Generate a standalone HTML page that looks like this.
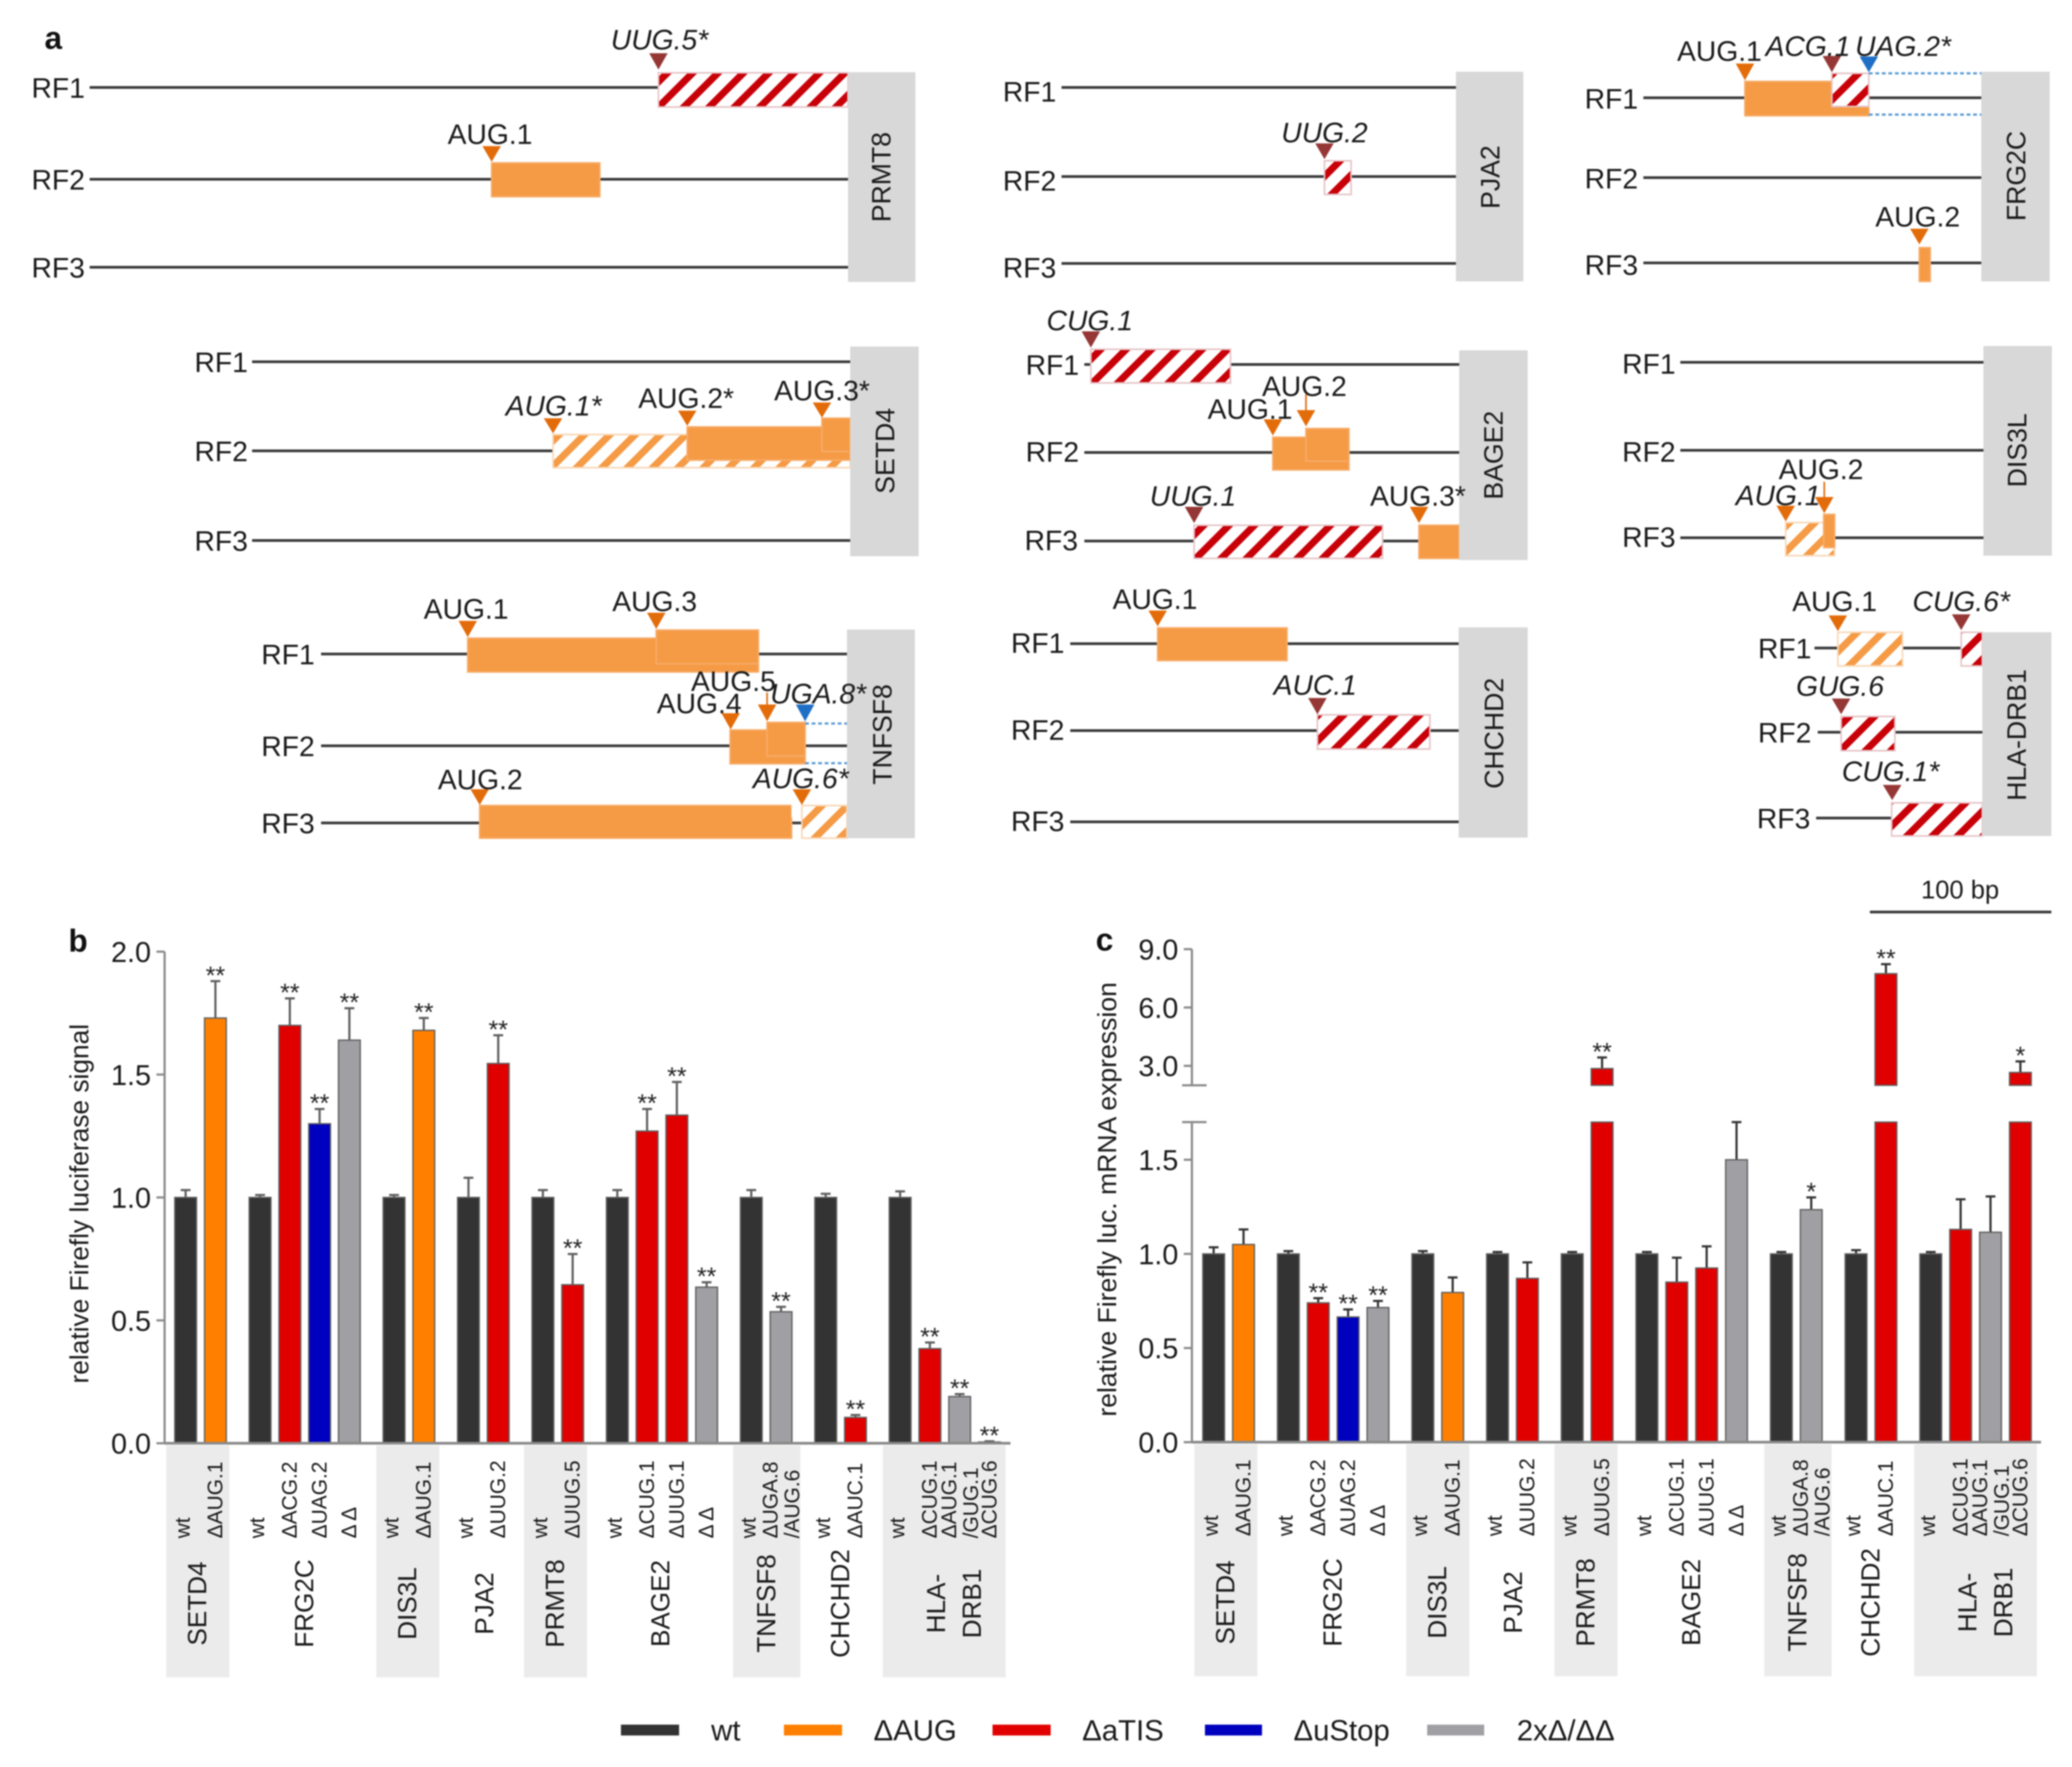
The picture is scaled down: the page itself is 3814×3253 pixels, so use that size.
<!DOCTYPE html>
<html>
<head>
<meta charset="utf-8">
<title>Upstream translation initiation sites and reporter assays</title>
<style>
html,body{margin:0;padding:0;background:#fff;}
svg{display:block;filter:blur(1.4px);font-family:"Liberation Sans",sans-serif;}
.lab{font-size:52px;fill:#1a1a1a;text-anchor:middle;}
.it{font-style:italic;}
.rf{font-size:52px;fill:#1a1a1a;transform:translateY(2px);}
.gene{font-size:49px;fill:#1a1a1a;text-anchor:middle;dominant-baseline:central;}
.track{stroke:#3a3a3a;stroke-width:5;}
.genebox{fill:#d8d8d8;}
.solid{fill:#f59a45;stroke:#f7ab66;stroke-width:3;}
.hr{fill:url(#hatch-red);stroke:#e6c4c7;stroke-width:3;}
.ho{fill:url(#hatch-orange);stroke:#f9d8b6;stroke-width:3;}
.to{fill:#e36c0a;}
.tr{fill:#953735;}
.tb{fill:#1f6fc6;}
.dot{stroke:#5b9bd5;stroke-width:4;stroke-dasharray:7 5;}
.thin{stroke:#e36c0a;stroke-width:3;}
.panel{font-size:58px;font-weight:bold;fill:#111;}
.leg{font-size:54px;fill:#1a1a1a;}
</style>
</head>
<body>
<svg id="figure" xmlns="http://www.w3.org/2000/svg" width="3814" height="3253" viewBox="0 0 3814 3253">
<defs>
<pattern id="hatch-red" width="33" height="33" patternUnits="userSpaceOnUse" patternTransform="rotate(45)"><rect width="33" height="33" fill="#fff"/><rect width="13" height="33" fill="#c80008"/></pattern>
<pattern id="hatch-orange" width="33" height="33" patternUnits="userSpaceOnUse" patternTransform="rotate(45)"><rect width="33" height="33" fill="#fff"/><rect width="13" height="33" fill="#f59a45"/></pattern>
</defs>
<rect width="3814" height="3253" fill="#fff"/>

<g>
<text class="panel" x="82" y="90">a</text>

<g>
<line class="track" x1="165" y1="161" x2="1561" y2="161"/>
<line class="track" x1="165" y1="330" x2="1561" y2="330"/>
<line class="track" x1="165" y1="492" x2="1561" y2="492"/>
<text class="rf" x="58" y="178">RF1</text>
<text class="rf" x="58" y="347">RF2</text>
<text class="rf" x="58" y="509">RF3</text>
<rect class="hr" x="1212" y="134" width="349" height="63"/>
<rect class="solid" x="905" y="300" width="199" height="62"/>
<rect class="genebox" x="1561" y="133" width="124" height="386"/>
<text class="gene" transform="rotate(-90 1623 326)" x="1623" y="326">PRMT8</text>
<text class="lab it" x="1214" y="91">UUG.5*</text>
<polygon class="tr" points="1195,98 1229,98 1212,128"/>
<text class="lab" x="902" y="265">AUG.1</text>
<polygon class="to" points="888,269 922,269 905,298"/>
</g>

<g>
<line class="track" x1="464" y1="666" x2="1565" y2="666"/>
<line class="track" x1="464" y1="830" x2="1018" y2="830"/>
<line class="track" x1="464" y1="995" x2="1565" y2="995"/>
<text class="rf" x="358" y="683">RF1</text>
<text class="rf" x="358" y="847">RF2</text>
<text class="rf" x="358" y="1012">RF3</text>
<rect class="ho" x="1018" y="800" width="547" height="61"/>
<rect class="solid" x="1265" y="786" width="300" height="61"/>
<rect class="solid" x="1513" y="770" width="52" height="61"/>
<rect class="genebox" x="1565" y="638" width="126" height="386"/>
<text class="gene" transform="rotate(-90 1630 830)" x="1630" y="830">SETD4</text>
<text class="lab it" x="1019" y="765">AUG.1*</text>
<polygon class="to" points="1001,770 1035,770 1018,798"/>
<text class="lab" x="1263" y="751">AUG.2*</text>
<polygon class="to" points="1248,756 1282,756 1265,784"/>
<text class="lab" x="1513" y="737">AUG.3*</text>
<polygon class="to" points="1496,741 1530,741 1513,769"/>
</g>

<g>
<line class="track" x1="591" y1="1204" x2="1559" y2="1204"/>
<line class="track" x1="591" y1="1373" x2="1559" y2="1373"/>
<line class="track" x1="591" y1="1515" x2="1559" y2="1515"/>
<text class="rf" x="481" y="1221">RF1</text>
<text class="rf" x="481" y="1390">RF2</text>
<text class="rf" x="481" y="1532">RF3</text>
<rect class="solid" x="861" y="1175" width="535" height="62"/>
<rect class="solid" x="1208" y="1160" width="188" height="62"/>
<rect class="solid" x="1344" y="1344" width="138" height="62"/>
<rect class="solid" x="1412" y="1330" width="70" height="62"/>
<line class="dot" x1="1482" y1="1332" x2="1559" y2="1332"/>
<line class="dot" x1="1482" y1="1405" x2="1559" y2="1405"/>
<rect class="solid" x="883" y="1483" width="574" height="60"/>
<rect x="1457" y="1480" width="19" height="25" fill="#fff"/>
<rect class="ho" x="1476" y="1483" width="83" height="60"/>
<rect class="genebox" x="1559" y="1159" width="125" height="384"/>
<text class="gene" transform="rotate(-90 1625 1352)" x="1625" y="1352">TNFSF8</text>
<text class="lab" x="858" y="1139">AUG.1</text>
<polygon class="to" points="844,1143 878,1143 861,1173"/>
<text class="lab" x="1205" y="1125">AUG.3</text>
<polygon class="to" points="1191,1128 1225,1128 1208,1158"/>
<text class="lab" x="1350" y="1272">AUG.5</text>
<text class="lab" x="1287" y="1313">AUG.4</text>
<polygon class="to" points="1328,1313 1362,1313 1345,1343"/>
<line class="thin" x1="1412" y1="1275" x2="1412" y2="1300"/>
<polygon class="to" points="1395,1297 1429,1297 1412,1328"/>
<text class="lab it" x="1506" y="1295">UGA.8*</text>
<polygon class="tb" points="1465,1297 1499,1297 1482,1328"/>
<text class="lab" x="884" y="1453">AUG.2</text>
<polygon class="to" points="866,1453 900,1453 883,1482"/>
<text class="lab it" x="1474" y="1451">AUG.6*</text>
<polygon class="to" points="1459,1453 1493,1453 1476,1482"/>
</g>

<g>
<line class="track" x1="1954" y1="161" x2="2680" y2="161"/>
<line class="track" x1="1954" y1="325" x2="2680" y2="325"/>
<line class="track" x1="1954" y1="485" x2="2680" y2="485"/>
<text class="rf" x="1846" y="185">RF1</text>
<text class="rf" x="1846" y="349">RF2</text>
<text class="rf" x="1846" y="509">RF3</text>
<rect class="hr" x="2438" y="296" width="49" height="62"/>
<rect class="genebox" x="2680" y="132" width="124" height="386"/>
<text class="gene" transform="rotate(-90 2744 326)" x="2744" y="326">PJA2</text>
<text class="lab it" x="2438" y="262">UUG.2</text>
<polygon class="tr" points="2421,264 2455,264 2438,293"/>
</g>

<g>
<line class="track" x1="3025" y1="180" x2="3647" y2="180"/>
<line class="track" x1="3025" y1="327" x2="3647" y2="327"/>
<line class="track" x1="3025" y1="484" x2="3647" y2="484"/>
<text class="rf" x="2917" y="198">RF1</text>
<text class="rf" x="2917" y="345">RF2</text>
<text class="rf" x="2917" y="504">RF3</text>
<rect class="solid" x="3212" y="150" width="228" height="63"/>
<rect class="hr" x="3372" y="135" width="68" height="61"/>
<line class="dot" x1="3440" y1="135" x2="3647" y2="135"/>
<line class="dot" x1="3440" y1="211" x2="3647" y2="211"/>
<rect class="solid" x="3533" y="456" width="20" height="62"/>
<rect class="genebox" x="3647" y="132" width="126" height="386"/>
<text class="gene" transform="rotate(-90 3712 324)" x="3712" y="324">FRG2C</text>
<text class="lab" x="3165" y="112">AUG.1</text>
<polygon class="to" points="3195,117 3229,117 3212,148"/>
<text class="lab it" x="3328" y="103">ACG.1</text>
<polygon class="tr" points="3355,103 3389,103 3372,133"/>
<text class="lab it" x="3503" y="103">UAG.2*</text>
<polygon class="tb" points="3423,104 3457,104 3440,133"/>
<text class="lab" x="3530" y="417">AUG.2</text>
<polygon class="to" points="3516,421 3550,421 3533,450"/>
</g>

<g>
<line class="track" x1="1996" y1="671" x2="2686" y2="671"/>
<line class="track" x1="1996" y1="833" x2="2686" y2="833"/>
<line class="track" x1="1996" y1="996" x2="2686" y2="996"/>
<text class="rf" x="1888" y="688">RF1</text>
<text class="rf" x="1888" y="848">RF2</text>
<text class="rf" x="1886" y="1011">RF3</text>
<rect class="hr" x="2008" y="643" width="257" height="62"/>
<rect class="solid" x="2343" y="805" width="140" height="60"/>
<rect class="solid" x="2404" y="789" width="79" height="60"/>
<rect class="hr" x="2198" y="967" width="347" height="61"/>
<rect class="solid" x="2612" y="967" width="74" height="61"/>
<rect class="genebox" x="2686" y="645" width="126" height="386"/>
<text class="gene" transform="rotate(-90 2750 838)" x="2750" y="838">BAGE2</text>
<text class="lab it" x="2006" y="608">CUG.1</text>
<polygon class="tr" points="1991,610 2025,610 2008,640"/>
<text class="lab" x="2401" y="729">AUG.2</text>
<text class="lab" x="2301" y="771">AUG.1</text>
<polygon class="to" points="2326,772 2360,772 2343,802"/>
<line class="thin" x1="2404" y1="726" x2="2404" y2="760"/>
<polygon class="to" points="2387,755 2421,755 2404,785"/>
<text class="lab it" x="2196" y="931">UUG.1</text>
<polygon class="tr" points="2181,933 2215,933 2198,963"/>
<text class="lab" x="2610" y="931">AUG.3*</text>
<polygon class="to" points="2595,933 2629,933 2612,963"/>
</g>

<g>
<line class="track" x1="3093" y1="667" x2="3651" y2="667"/>
<line class="track" x1="3093" y1="829" x2="3651" y2="829"/>
<line class="track" x1="3093" y1="990" x2="3651" y2="990"/>
<text class="rf" x="2986" y="686">RF1</text>
<text class="rf" x="2986" y="848">RF2</text>
<text class="rf" x="2986" y="1005">RF3</text>
<rect class="ho" x="3287" y="962" width="90" height="61"/>
<rect class="solid" x="3357" y="947" width="20" height="61"/>
<rect class="genebox" x="3651" y="637" width="126" height="386"/>
<text class="gene" transform="rotate(-90 3714 829)" x="3714" y="829">DIS3L</text>
<text class="lab" x="3352" y="882">AUG.2</text>
<text class="lab it" x="3273" y="930">AUG.1</text>
<polygon class="to" points="3270,931 3304,931 3287,960"/>
<line class="thin" x1="3358" y1="887" x2="3358" y2="920"/>
<polygon class="to" points="3341,915 3375,915 3358,945"/>
</g>

<g>
<line class="track" x1="1970" y1="1185" x2="2685" y2="1185"/>
<line class="track" x1="1970" y1="1345" x2="2685" y2="1345"/>
<line class="track" x1="1970" y1="1513" x2="2685" y2="1513"/>
<text class="rf" x="1861" y="1200">RF1</text>
<text class="rf" x="1861" y="1360">RF2</text>
<text class="rf" x="1861" y="1528">RF3</text>
<rect class="solid" x="2131" y="1156" width="238" height="60"/>
<rect class="hr" x="2425" y="1316" width="207" height="63"/>
<rect class="genebox" x="2685" y="1155" width="127" height="387"/>
<text class="gene" transform="rotate(-90 2751 1350)" x="2751" y="1350">CHCHD2</text>
<text class="lab" x="2126" y="1121">AUG.1</text>
<polygon class="to" points="2114,1124 2148,1124 2131,1153"/>
<text class="lab it" x="2421" y="1279">AUC.1</text>
<polygon class="tr" points="2408,1285 2442,1285 2425,1315"/>
</g>

<g>
<line class="track" x1="3340" y1="1193" x2="3649" y2="1193"/>
<line class="track" x1="3346" y1="1348" x2="3649" y2="1348"/>
<line class="track" x1="3343" y1="1506" x2="3482" y2="1506"/>
<text class="rf" x="3236" y="1210">RF1</text>
<text class="rf" x="3236" y="1365">RF2</text>
<text class="rf" x="3234" y="1523">RF3</text>
<rect class="ho" x="3383" y="1164" width="119" height="62"/>
<rect class="hr" x="3610" y="1164" width="39" height="62"/>
<rect class="hr" x="3389" y="1319" width="99" height="63"/>
<rect class="hr" x="3482" y="1478" width="167" height="61"/>
<rect class="genebox" x="3649" y="1164" width="127" height="375"/>
<text class="gene" transform="rotate(-90 3713 1353)" x="3713" y="1353">HLA-DRB1</text>
<text class="lab" x="3377" y="1125">AUG.1</text>
<polygon class="to" points="3366,1133 3400,1133 3383,1162"/>
<text class="lab it" x="3610" y="1125">CUG.6*</text>
<polygon class="tr" points="3593,1131 3627,1131 3610,1160"/>
<text class="lab it" x="3387" y="1281">GUG.6</text>
<polygon class="tr" points="3372,1286 3406,1286 3389,1315"/>
<text class="lab it" x="3480" y="1438">CUG.1*</text>
<polygon class="tr" points="3466,1445 3500,1445 3483,1473"/>
</g>

<text x="3608" y="1654" font-size="47" text-anchor="middle" fill="#1a1a1a">100 bp</text>
<line x1="3442" y1="1679" x2="3776" y2="1679" stroke="#3a3a3a" stroke-width="5"/>
</g>

<g id="chart-b">
<text class="panel" x="126" y="1752">b</text>
</g>
<g id="chart-c">
<text class="panel" x="2017" y="1750">c</text>
</g>

<g>
<rect x="1143" y="3175" width="107" height="20" fill="#333333"/>
<text class="leg" x="1309" y="3204">wt</text>
<rect x="1443" y="3175" width="107" height="20" fill="#ff8000"/>
<text class="leg" x="1608" y="3204">ΔAUG</text>
<rect x="1827" y="3175" width="107" height="20" fill="#e00000"/>
<text class="leg" x="1992" y="3204">ΔaTIS</text>
<rect x="2218" y="3175" width="105" height="20" fill="#0000bf"/>
<text class="leg" x="2381" y="3204">ΔuStop</text>
<rect x="2627" y="3175" width="105" height="20" fill="#a0a0a4"/>
<text class="leg" x="2792" y="3204">2xΔ/ΔΔ</text>
</g>
</svg>

<script>
const genes = ["SETD4","FRG2C","DIS3L","PJA2","PRMT8","BAGE2","TNFSF8","CHCHD2","HLA-\nDRB1"];
const conditionLabels = [
  ["wt","ΔAUG.1"],
  ["wt","ΔACG.2","ΔUAG.2","Δ Δ"],
  ["wt","ΔAUG.1"],
  ["wt","ΔUUG.2"],
  ["wt","ΔUUG.5"],
  ["wt","ΔCUG.1","ΔUUG.1","Δ Δ"],
  ["wt","ΔUGA.8\n/AUG.6"],
  ["wt","ΔAUC.1"],
  ["wt","ΔCUG.1","ΔAUG.1\n/GUG.1","ΔCUG.6"]
];
const conditionKinds = [
  ["wt","aug"],
  ["wt","atis","ustop","double"],
  ["wt","aug"],
  ["wt","atis"],
  ["wt","atis"],
  ["wt","atis","atis","double"],
  ["wt","double"],
  ["wt","atis"],
  ["wt","atis","double","atis"]
];
const lucValues = [[1,1.73],[1,1.70,1.30,1.64],[1,1.68],[1,1.545],[1,0.645],[1,1.27,1.335,0.635],[1,0.535],[1,0.105],[1,0.385,0.19,0.005]];
const lucErrors = [[0.03,0.15],[0.01,0.11,0.06,0.13],[0.01,0.05],[0.08,0.115],[0.03,0.125],[0.03,0.09,0.135,0.02],[0.03,0.02],[0.015,0.01],[0.025,0.025,0.01,0.003]];
const lucStars = [["","**"],["","**","**","**"],["","**"],["","**"],["","**"],["","**","**","**"],["","**"],["","**"],["","**","**","**"]];
const lucTicks = [0,0.5,1,1.5,2];
const mrnaValues = [[1,1.05],[1,0.74,0.665,0.715],[1,0.795],[1,0.87],[1,2.86],[1,0.85,0.925,1.5],[1,1.235],[1,7.74],[1,1.13,1.115,2.66]];
const mrnaErrors = [[0.035,0.08],[0.015,0.025,0.04,0.035],[0.015,0.08],[0.01,0.085],[0.01,0.57],[0.01,0.13,0.115,0.2],[0.01,0.065],[0.02,0.49],[0.01,0.16,0.19,0.57]];
const mrnaStars = [["",""],["","**","**","**"],["",""],["",""],["","**"],["","","",""],["","*"],["","**"],["","","","*"]];
const mrnaLowerTicks = [0,0.5,1,1.5];
const mrnaUpperTicks = [3,6,9];

const kindColors = {wt:"#333333",aug:"#ff8000",atis:"#e00000",ustop:"#0000bf",double:"#a0a0a4"};
const SVGNS = "http://www.w3.org/2000/svg";

function mk(tag, parent, attrs, text) {
  const el = document.createElementNS(SVGNS, tag);
  for (const k in attrs) el.setAttribute(k, attrs[k]);
  if (text !== undefined) el.textContent = text;
  parent.appendChild(el);
  return el;
}

function drawChart(root, cfg) {
  const step = cfg.step;
  function barX(g, b) {
    let before = 0;
    for (let i = 0; i < g; i++) before += cfg.values[i].length;
    return cfg.firstX + step * (before + b + 0.5 * g);
  }
  function groupX(g) {
    return (barX(g, 0) + barX(g, cfg.values[g].length - 1)) / 2;
  }

  genes.forEach((gene, g) => {
    if (g % 2 === 0) {
      const half = cfg.values[g].length === 4 ? 113 : (g === 6 ? 62 : 58);
      const shade = mk("rect", root, {x: groupX(g) - half + cfg.nudge[g], y: cfg.axisY + 4, width: half * 2, height: 427, fill: "#ebebeb"});
      
      
    }
  });

  cfg.ticks.forEach(t => {
    const y = cfg.y(t);
    const tick = mk("line", root, {x1: cfg.axisX - 15, x2: cfg.axisX, y1: y, y2: y, stroke: "#8a8a8a", "stroke-width": 4});
    
    
    const lab = mk("text", root, {x: cfg.axisX - 25, y: y + 19, "text-anchor": "end", "font-size": 53, fill: "#1a1a1a"}, t.toFixed(1));
    
    
  });

  cfg.values.forEach((vals, g) => {
    vals.forEach((v, b) => {
      const x = barX(g, b);
      const err = cfg.errors[g][b];
      const top = v + err;
      const yTop = cfg.y(top);
      const whisker = mk("line", root, {x1: x, x2: x, y1: yTop, y2: cfg.y(v), stroke: cfg.errColor, "stroke-width": 4});
      
      
      const cap = mk("line", root, {x1: x - 9, x2: x + 9, y1: yTop, y2: yTop, stroke: cfg.errColor, "stroke-width": 4});
      
      
      cfg.segments(v).forEach(seg => {
        const yA = cfg.y(seg[1]);
        const yB = cfg.y(seg[0]);
        const bar = mk("rect", root, {x: x - 20, y: yA, width: 40, height: Math.max(yB - yA, 1), fill: kindColors[cfg.kinds[g][b]], stroke: "#5f5f5f", "stroke-width": 2.5});
        
        
      });
      if (cfg.stars[g][b]) {
        const star = mk("text", root, {x: x, y: yTop + 5, "text-anchor": "middle", "font-size": 46, fill: "#222"}, cfg.stars[g][b]);
        
        
      }
      const lines = conditionLabels[g][b].split("\n");
      lines.forEach((line, i) => {
        const off = lines.length === 2 ? (i === 0 ? -19 : 21) : (line === "wt" ? -5 : 0);
        const tx = x + off;
        const sub = mk("text", root, {x: tx, y: cfg.subY, "font-size": 38.5, fill: "#1a1a1a", "dominant-baseline": "central", transform: "rotate(-90 " + tx + " " + cfg.subY + ")"}, line);
        
        
      });
    });
    const names = genes[g].split("\n");
    names.forEach((name, i) => {
      const gx = groupX(g) + cfg.nudge[g] + (names.length === 2 ? -14 + i * 66 : 0);
      const gl = mk("text", root, {x: gx, y: cfg.geneY, "font-size": 48, fill: "#1a1a1a", "text-anchor": "middle", "dominant-baseline": "central", transform: "rotate(-90 " + gx + " " + cfg.geneY + ")"}, name);
      
      
    });
  });

  cfg.axisSegments.forEach(s => {
    const ax = mk("line", root, {x1: cfg.axisX, x2: cfg.axisX, y1: cfg.y(s[1]), y2: cfg.y(s[0]), stroke: "#8a8a8a", "stroke-width": 4});
    
    
  });
  const xAxis = mk("line", root, {x1: cfg.axisX, x2: cfg.axisEnd, y1: cfg.axisY, y2: cfg.axisY, stroke: "#8a8a8a", "stroke-width": 5});
  
  

  cfg.breaks.forEach(v => {
    const y = cfg.y(v);
    const br = mk("line", root, {x1: cfg.axisX - 18, x2: cfg.axisX + 27, y1: y, y2: y, stroke: "#8a8a8a", "stroke-width": 4});
    
    
  });

  const title = mk("text", root, {x: cfg.titleX, y: cfg.titleY, "font-size": 48, fill: "#1a1a1a", "text-anchor": "middle", "dominant-baseline": "central", textLength: cfg.titleLen, lengthAdjust: "spacingAndGlyphs", transform: "rotate(-90 " + cfg.titleX + " " + cfg.titleY + ")"}, cfg.title);
  
  
}

function lucY(v) { return 2657 - v * 452.5; }
function mrnaY(v) {
  if (v <= 1.7) return 2655 - v * 346.6;
  if (v >= 2) return 1998 - (v - 2) * 35.8;
  return 2655 - 1.7 * 346.6;
}

drawChart(document.getElementById("chart-b"), {
  values: lucValues, errors: lucErrors, stars: lucStars, kinds: conditionKinds, ticks: lucTicks,
  y: lucY, segments: v => [[0, v]], axisSegments: [[0, 2]], breaks: [],
  nudge: [-5,0,-2,3,-4,-2,1,0,-1],
  firstX: 341.7, step: 54.8, axisX: 303, axisEnd: 1860, axisY: 2657, errColor: "#5f5f5f",
  subY: 2832, geneY: 2952, titleX: 147, titleY: 2216, titleLen: 662,
  title: "relative Firefly luciferase signal"
});
drawChart(document.getElementById("chart-c"), {
  values: mrnaValues, errors: mrnaErrors, stars: mrnaStars, kinds: conditionKinds,
  ticks: mrnaLowerTicks.concat(mrnaUpperTicks),
  y: mrnaY, segments: v => v >= 2 ? [[0, 1.7], [2, v]] : [[0, Math.min(v, 1.7)]],
  axisSegments: [[0, 1.7], [2, 9]], breaks: [1.7, 2],
  nudge: [-5,0,0,2,-2,0,3,0,0],
  firstX: 2234, step: 55, axisX: 2194, axisEnd: 3757, axisY: 2655, errColor: "#333333",
  subY: 2828, geneY: 2950, titleX: 2039, titleY: 2208, titleLen: 800,
  title: "relative Firefly luc. mRNA expression"
});
</script>
</body>
</html>
